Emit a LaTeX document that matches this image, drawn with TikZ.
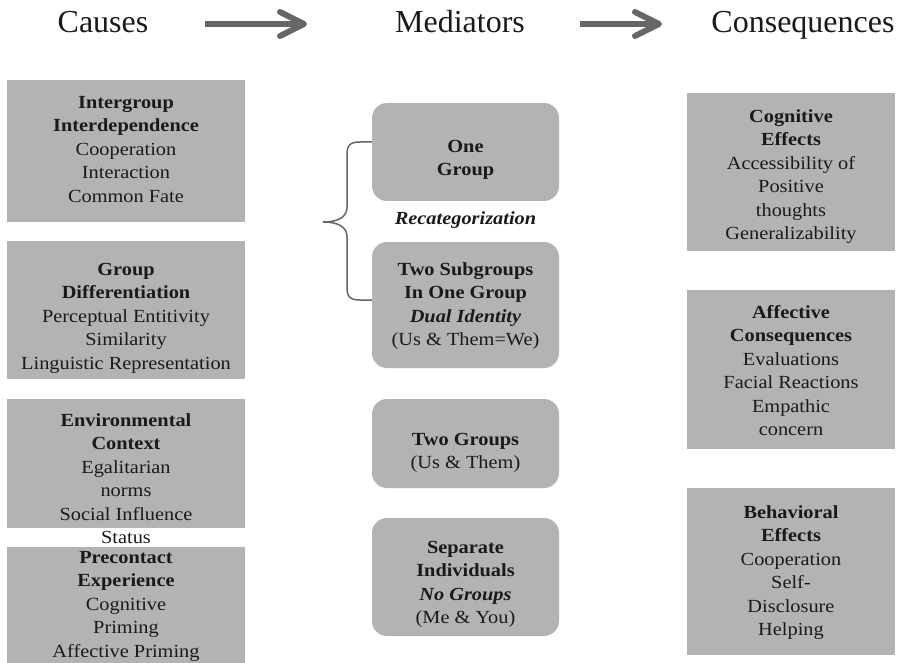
\documentclass[tikz,border=0pt]{standalone}
\usepackage{fontspec}
\setmainfont{Liberation Serif}
\newfontfamily\bodyfont[FakeStretch=1.1]{Liberation Serif}
\usetikzlibrary{calc}
\definecolor{boxgray}{HTML}{B3B3B3}
\definecolor{ink}{HTML}{1A1A1A}
\definecolor{arrowgray}{HTML}{666666}
% keeps the first line of every box at a fixed height
\newcommand\topstrut{\rule{0pt}{15pt}}

\begin{document}
\begin{tikzpicture}[x=1pt,y=-1pt,
  header/.style={font=\fontsize{32}{36}\selectfont, text=ink, inner sep=0pt, anchor=base},
  plainbox/.style={fill=boxgray, draw=none, inner sep=0pt},
  roundbox/.style={fill=boxgray, draw=none, inner sep=0pt, rounded corners=15pt},
  boxtext/.style={font=\bodyfont\fontsize{18.5}{23.5}\selectfont, text=ink, align=center, inner sep=0pt, anchor=north},
  flowshaft/.style={draw=arrowgray, line width=6pt},
  flowhead/.style={draw=arrowgray, line width=6pt, line cap=round, line join=round},
  bracket/.style={draw=arrowgray, line width=1.5pt}]

\useasboundingbox (0,0) rectangle (907,663);

% column headings
\node[header] (causes) at (103,33) {Causes};
\node[header] (mediators) at (460,33) {Mediators};
\node[header] (consequences) at (803,33) {Consequences};

% heading arrows
\coordinate (a1s) at (205,24);
\coordinate (a1t) at (304,24);
\coordinate (a2s) at (580,24);
\coordinate (a2t) at (659,24);
\draw[flowshaft] (a1s) -- (a1t);
\draw[flowhead] ($(a1t)+(-24,-12)$) -- (a1t) -- ($(a1t)+(-24,12)$);
\draw[flowshaft] (a2s) -- (a2t);
\draw[flowhead] ($(a2t)+(-24,-12)$) -- (a2t) -- ($(a2t)+(-24,12)$);

% causes column
\node[plainbox, minimum width=238pt, minimum height=142pt] (inter) at (126,151) {};
\node[plainbox, minimum width=238pt, minimum height=138pt] (diff) at (126,310) {};
\node[plainbox, minimum width=238pt, minimum height=129pt] (env) at (126,463.5) {};
\node[plainbox, minimum width=238pt, minimum height=116pt] (pre) at (126,605) {};

\node[boxtext] (intertxt) at (126,93) {\topstrut\textbf{Intergroup}\\\textbf{Interdependence}\\Cooperation\\Interaction\\Common Fate};
\node[boxtext] (difftxt) at (126,260) {\topstrut\textbf{Group}\\\textbf{Differentiation}\\Perceptual Entitivity\\Similarity\\Linguistic Representation};
\node[boxtext] (envtxt) at (126,411) {\topstrut\textbf{Environmental}\\\textbf{Context}\\Egalitarian\\norms\\Social Influence\\Status};
\node[boxtext] (pretxt) at (126,548) {\topstrut\textbf{Precontact}\\\textbf{Experience}\\Cognitive\\Priming\\Affective Priming};

% mediators column
\node[roundbox, minimum width=187pt, minimum height=98pt] (one) at (465.5,152) {};
\node[roundbox, minimum width=187pt, minimum height=126pt] (sub) at (465.5,305) {};
\node[roundbox, minimum width=187pt, minimum height=89pt] (two) at (465.5,443.5) {};
\node[roundbox, minimum width=187pt, minimum height=118pt] (sep) at (465.5,577) {};

\node[boxtext] (onetxt) at (465.5,137) {\topstrut\textbf{One}\\\textbf{Group}};
\node[boxtext, anchor=base] (recat) at (465.5,225) {\textbf{\textit{Recategorization}}};
\node[boxtext] (subtxt) at (465.5,260) {\topstrut\textbf{Two Subgroups}\\\textbf{In One Group}\\\textbf{\textit{Dual Identity}}\\(Us \& Them=We)};
\node[boxtext] (twotxt) at (465.5,430) {\topstrut\textbf{Two Groups}\\(Us \& Them)};
\node[boxtext] (septxt) at (465.5,538) {\topstrut\textbf{Separate}\\\textbf{Individuals}\\\textbf{\textit{No Groups}}\\(Me \& You)};

% brace joining the two recategorization outcomes
\coordinate (btop) at (one.west |- 0,142);
\coordinate (bbot) at (sub.west |- 0,300);
\coordinate (btip) at (323,222);
\draw[bracket] (btop) -- (360,142) .. controls (350,142) and (347,145) .. (347,155)
  -- (347,207) .. controls (347,216) and (340,222) .. (btip)
  .. controls (340,222) and (347,228) .. (347,237)
  -- (347,287) .. controls (347,297) and (350,300) .. (360,300) -- (bbot);

% consequences column
\node[plainbox, minimum width=208pt, minimum height=158pt] (cog) at (791,172) {};
\node[plainbox, minimum width=208pt, minimum height=159pt] (aff) at (791,369.5) {};
\node[plainbox, minimum width=208pt, minimum height=167pt] (beh) at (791,571.5) {};

\node[boxtext] (cogtxt) at (791,107) {\topstrut\textbf{Cognitive}\\\textbf{Effects}\\Accessibility of\\Positive\\thoughts\\Generalizability};
\node[boxtext] (afftxt) at (791,303) {\topstrut\textbf{Affective}\\\textbf{Consequences}\\Evaluations\\Facial Reactions\\Empathic\\concern};
\node[boxtext] (behtxt) at (791,503) {\topstrut\textbf{Behavioral}\\\textbf{Effects}\\Cooperation\\Self-\\Disclosure\\Helping};
\end{tikzpicture}
\end{document}
